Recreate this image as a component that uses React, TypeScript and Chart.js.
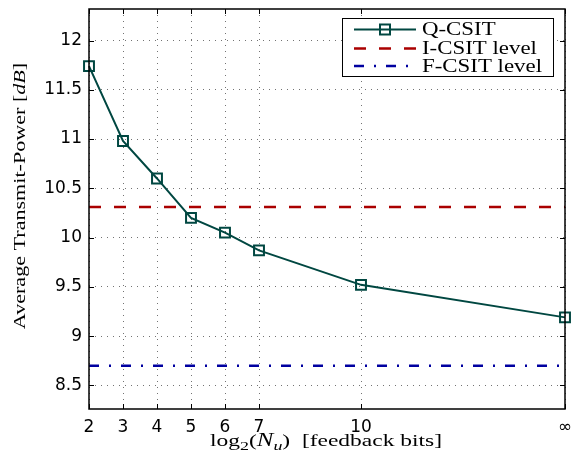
import React, { useEffect, useRef } from 'react';
import { Chart, registerables } from 'chart.js';

Chart.register(...registerables);

// ---- data ----
const FEEDBACK_BITS = [2, 3, 4, 5, 6, 7, 10, 16];
const Q_CSIT = [11.74, 10.98, 10.6, 10.2, 10.05, 9.87, 9.52, 9.19];
const I_CSIT_LEVEL = 10.31;
const F_CSIT_LEVEL = 8.7;
const X_TICKS = [2, 3, 4, 5, 6, 7, 10, 16];
const X_TICK_LABELS = ['2', '3', '4', '5', '6', '7', '10', '∞'];
const Y_TICKS = [8.5, 9, 9.5, 10, 10.5, 11, 11.5, 12];
const X_RANGE = [2, 16];
const Y_RANGE = [8.26, 12.32];
const SERIES_NAMES = ['Q-CSIT', 'I-CSIT level', 'F-CSIT level'];

const TEAL = '#004741';
const RED = '#aa0000';
const BLUE = '#0000a0';
const SERIF = '"Liberation Serif", "Times New Roman", serif';
const SANS = '"DejaVu Sans", sans-serif';

type Run = { text: string; font: string; dy?: number };

function drawRuns(ctx: CanvasRenderingContext2D, runs: Run[], x: number, y: number, align: 'left' | 'center', sx: number) {
  ctx.save();
  ctx.textBaseline = 'alphabetic';
  ctx.textAlign = 'left';
  let total = 0;
  const widths = runs.map((r) => {
    ctx.font = r.font;
    const w = ctx.measureText(r.text).width;
    total += w;
    return w;
  });
  ctx.translate(x, y);
  ctx.scale(sx, 1);
  let cx = align === 'center' ? -total / 2 : 0;
  runs.forEach((r, i) => {
    ctx.font = r.font;
    ctx.fillText(r.text, cx, r.dy || 0);
    cx += widths[i];
  });
  ctx.restore();
}

const zeroPad = (s: any) => {
  s.paddingTop = 0;
  s.paddingBottom = 0;
  s.paddingLeft = 0;
  s.paddingRight = 0;
};

const decorPlugin = {
  id: 'decor',
  afterDraw(chart: any) {
    const { ctx, chartArea: ca, scales } = chart;
    const xs = scales.x;
    const ys = scales.y;
    ctx.save();
    // frame
    ctx.strokeStyle = '#000';
    ctx.lineWidth = 1.5;
    ctx.setLineDash([]);
    ctx.strokeRect(ca.left, ca.top, ca.right - ca.left, ca.bottom - ca.top);
    // inner tick marks
    ctx.lineWidth = 1;
    const tl = 5;
    ctx.beginPath();
    X_TICKS.forEach((v) => {
      const px = Math.round(xs.getPixelForValue(v)) + 0.5;
      ctx.moveTo(px, ca.bottom);
      ctx.lineTo(px, ca.bottom - tl);
      ctx.moveTo(px, ca.top);
      ctx.lineTo(px, ca.top + tl);
    });
    Y_TICKS.forEach((v) => {
      const py = Math.round(ys.getPixelForValue(v)) + 0.5;
      ctx.moveTo(ca.left, py);
      ctx.lineTo(ca.left + tl, py);
      ctx.moveTo(ca.right, py);
      ctx.lineTo(ca.right - tl, py);
    });
    ctx.stroke();

    ctx.fillStyle = '#000';
    // x axis title
    drawRuns(
      ctx,
      [
        { text: 'log', font: `17px ${SERIF}` },
        { text: '2', font: `13px ${SERIF}`, dy: 4 },
        { text: '(', font: `17px ${SERIF}` },
        { text: 'N', font: `italic 18px ${SERIF}` },
        { text: 'u', font: `italic 13px ${SERIF}`, dy: 4 },
        { text: ')', font: `17px ${SERIF}` },
        { text: '  [feedback bits]', font: `17px ${SERIF}` },
      ],
      (ca.left + ca.right) / 2 - 1,
      445.5,
      'center',
      1.38
    );
    // y axis title
    ctx.save();
    ctx.translate(24.5, 196);
    ctx.rotate(-Math.PI / 2);
    drawRuns(
      ctx,
      [
        { text: 'Average Transmit-Power [', font: `17px ${SERIF}` },
        { text: 'dB', font: `italic 17px ${SERIF}` },
        { text: ']', font: `17px ${SERIF}` },
      ],
      0,
      0,
      'center',
      1.3
    );
    ctx.restore();

    // legend
    const bw = 211;
    const bh = 58;
    const bx = ca.right - 12 - bw;
    const by = ca.top + 9;
    ctx.fillStyle = '#fff';
    ctx.fillRect(bx, by, bw, bh);
    ctx.strokeStyle = '#000';
    ctx.lineWidth = 1;
    ctx.strokeRect(Math.round(bx) + 0.5, Math.round(by) + 0.5, bw, bh);
    const rows = [11.5, 30.5, 48];
    chart.data.datasets.forEach((ds: any, i: number) => {
      const ry = by + rows[i];
      ctx.save();
      ctx.strokeStyle = ds.borderColor;
      ctx.lineWidth = ds.borderWidth;
      ctx.setLineDash(ds.borderDash || []);
      ctx.beginPath();
      ctx.moveTo(bx + 12, ry);
      ctx.lineTo(bx + 74, ry);
      ctx.stroke();
      if (ds.pointRadius > 0) {
        ctx.setLineDash([]);
        ctx.lineWidth = ds.pointBorderWidth;
        const s = 5;
        ctx.strokeRect(bx + 43 - s, ry - s, 2 * s, 2 * s);
      }
      ctx.restore();
      ctx.fillStyle = '#000';
      drawRuns(ctx, [{ text: ds.label, font: `18px ${SERIF}` }], bx + 80, ry + 5.5, 'left', 1.27);
    });
    ctx.restore();
  },
};

export default function App() {
  const ref = useRef<HTMLCanvasElement | null>(null);
  useEffect(() => {
    if (!ref.current) return;
    const chart = new Chart(ref.current, {
      type: 'line',
      data: {
        datasets: [
          {
            label: SERIES_NAMES[0],
            data: FEEDBACK_BITS.map((x, i) => ({ x, y: Q_CSIT[i] })),
            borderColor: TEAL,
            borderWidth: 2,
            pointStyle: 'rect',
            pointRadius: 7,
            pointHoverRadius: 7,
            pointBorderWidth: 2,
            pointBorderColor: TEAL,
            pointBackgroundColor: 'rgba(0,0,0,0)',
            tension: 0,
            clip: false as any,
          },
          {
            label: SERIES_NAMES[1],
            data: X_RANGE.map((x) => ({ x, y: I_CSIT_LEVEL })),
            borderColor: RED,
            borderWidth: 2.5,
            borderDash: [12, 13],
            pointRadius: 0,
          },
          {
            label: SERIES_NAMES[2],
            data: X_RANGE.map((x) => ({ x, y: F_CSIT_LEVEL })),
            borderColor: BLUE,
            borderWidth: 2.5,
            borderDash: [10, 10, 2, 10],
            pointRadius: 0,
          },
        ],
      },
      options: {
        animation: false,
        responsive: false,
        layout: { padding: { left: 0, top: 9, right: 8, bottom: 0 } },
        plugins: { legend: { display: false }, tooltip: { enabled: false } },
        scales: {
          x: {
            type: 'linear',
            min: X_RANGE[0],
            max: X_RANGE[1],
            afterBuildTicks: (s: any) => {
              s.ticks = X_TICKS.map((v) => ({ value: v }));
            },
            afterFit: (s: any) => {
              s.height = 50;
              zeroPad(s);
            },
            ticks: {
              autoSkip: false,
              maxRotation: 0,
              padding: 8,
              color: '#000',
              font: { family: SANS, size: 17 },
              callback: (v: any) => {
                const i = X_TICKS.indexOf(Number(v));
                return i >= 0 ? X_TICK_LABELS[i] : '';
              },
            },
            grid: { color: 'rgba(0,0,0,0.55)', lineWidth: 1, drawTicks: false },
            border: { display: false, dash: [1, 5] },
          },
          y: {
            type: 'linear',
            min: Y_RANGE[0],
            max: Y_RANGE[1],
            afterBuildTicks: (s: any) => {
              s.ticks = Y_TICKS.map((v) => ({ value: v }));
            },
            afterFit: (s: any) => {
              s.width = 89;
              zeroPad(s);
            },
            ticks: {
              padding: 7,
              color: '#000',
              font: { family: SANS, size: 17 },
              callback: (v: any) => String(v),
            },
            grid: { color: 'rgba(0,0,0,0.55)', lineWidth: 1, drawTicks: false },
            border: { display: false, dash: [1, 5] },
          },
        },
      },
      plugins: [decorPlugin],
    });
    return () => chart.destroy();
  }, []);
  return (
    <canvas
      ref={ref}
      width={574}
      height={459}
      style={{ position: 'absolute', left: 0, top: 0, display: 'block', background: '#fff' }}
    />
  );
}
